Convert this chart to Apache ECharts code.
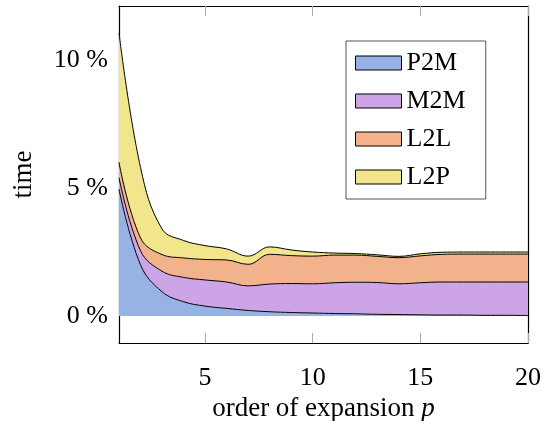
<!DOCTYPE html>
<html>
<head>
<meta charset="utf-8">
<script src="https://cdn.jsdelivr.net/npm/echarts@6/dist/echarts.min.js"></script>
<style>
  html, body { margin: 0; padding: 0; background: #fff; }
  #chart { width: 543px; height: 421px; }
</style>
</head>
<body>
<div id="chart"></div>
<script>
// order of expansion p
var orders = ['1', '2', '3', '4', '5', '6', '7', '8', '9', '10', '11', '12', '13', '14', '15', '16', '17', '18', '19', '20'];
// share of time per operator, in %
var p2m = [4.95, 2.0, 0.95, 0.56, 0.39, 0.30, 0.22, 0.17, 0.14, 0.12, 0.10, 0.09, 0.07, 0.06, 0.05, 0.04, 0.04, 0.03, 0.03, 0.02];
var m2m = [0.45, 0.55, 0.80, 0.95, 1.02, 1.03, 0.96, 1.08, 1.13, 1.14, 1.20, 1.23, 1.24, 1.20, 1.25, 1.29, 1.29, 1.30, 1.30, 1.31];
var l2l = [0.60, 0.50, 0.65, 0.76, 0.80, 0.86, 0.84, 1.16, 1.09, 1.08, 1.08, 1.06, 1.02, 1.02, 1.05, 1.08, 1.09, 1.09, 1.09, 1.09];
var l2p = [5.05, 2.75, 1.00, 0.68, 0.54, 0.43, 0.32, 0.29, 0.22, 0.16, 0.08, 0.06, 0.06, 0.05, 0.08, 0.08, 0.08, 0.08, 0.08, 0.08];
var xTicks = ['5', '10', '15', '20'];
var yTicks = [0, 5, 10];

var names = ['P2M', 'M2M', 'L2L', 'L2P'];
var colors = ['#97b3e6', '#cda4e6', '#f2b28c', '#f1e68c'];
var values = [p2m, m2m, l2l, l2p];

var serif = "'Liberation Serif', 'DejaVu Serif', serif";

var myChart = echarts.init(document.getElementById('chart'));

var series = names.map(function (n, k) {
    return {
        name: n,
        type: 'line',
        stack: 'total',
        smooth: 0.4,
        symbol: 'none',
        color: colors[k],
        itemStyle: { color: colors[k] },
        lineStyle: { color: '#000', width: 1 },
        areaStyle: { color: colors[k], opacity: 1 },
        data: values[k]
    };
});

function onTick(idx, val) { return xTicks.indexOf(val) >= 0; }

var tickStyle = { inside: true, length: 10, lineStyle: { color: '#aaa', width: 1 } };
var boxLine = { show: true, onZero: false, lineStyle: { color: '#000', width: 1.2 } };

var option = {
    animation: false,
    grid: { left: 119, right: 15, top: 6, bottom: 78, outerBoundsMode: 'none', containLabel: false },
    legend: {
        orient: 'vertical',
        left: 346,
        top: 41,
        padding: [9, 20, 9, 9],
        itemGap: 12,
        itemWidth: 46,
        itemHeight: 14,
        icon: 'rect',
        itemStyle: { borderColor: '#000', borderWidth: 1 },
        borderColor: '#555',
        borderWidth: 1,
        backgroundColor: '#fff',
        textStyle: { fontFamily: serif, fontSize: 26, color: '#000' },
        data: names
    },
    xAxis: [
        {
            type: 'category',
            data: orders,
            boundaryGap: false,
            position: 'bottom',
            axisLine: boxLine,
            axisTick: Object.assign({ interval: onTick }, tickStyle),
            splitLine: { show: false },
            axisLabel: {
                interval: onTick,
                margin: 22,
                fontFamily: serif,
                fontSize: 26,
                color: '#000'
            },
            name: 'order of expansion {i|p}',
            nameLocation: 'middle',
            nameGap: 50,
            nameTextStyle: {
                fontFamily: serif,
                fontSize: 27,
                color: '#000',
                rich: { i: { fontFamily: serif, fontSize: 27, fontStyle: 'italic', color: '#000' } }
            }
        },
        {
            type: 'category',
            data: orders,
            boundaryGap: false,
            position: 'top',
            axisLine: boxLine,
            axisTick: Object.assign({ interval: onTick }, tickStyle),
            axisLabel: { show: false },
            splitLine: { show: false }
        }
    ],
    yAxis: [
        {
            type: 'value',
            min: -1.05,
            max: 12.1,
            position: 'left',
            axisLine: boxLine,
            axisTick: Object.assign({ customValues: yTicks }, tickStyle),
            splitLine: { show: false },
            axisLabel: {
                customValues: yTicks,
                margin: 11,
                fontFamily: serif,
                fontSize: 26,
                color: '#000',
                formatter: function (v) { return v + ' %'; }
            },
            name: 'time',
            nameLocation: 'middle',
            nameGap: 82,
            nameTextStyle: { fontFamily: serif, fontSize: 27, color: '#000' }
        },
        {
            type: 'value',
            min: -1.05,
            max: 12.1,
            position: 'right',
            axisLine: boxLine,
            axisTick: Object.assign({ customValues: yTicks }, tickStyle),
            axisLabel: { show: false },
            splitLine: { show: false }
        }
    ],
    series: series
};

myChart.setOption(option);
</script>
</body>
</html>
